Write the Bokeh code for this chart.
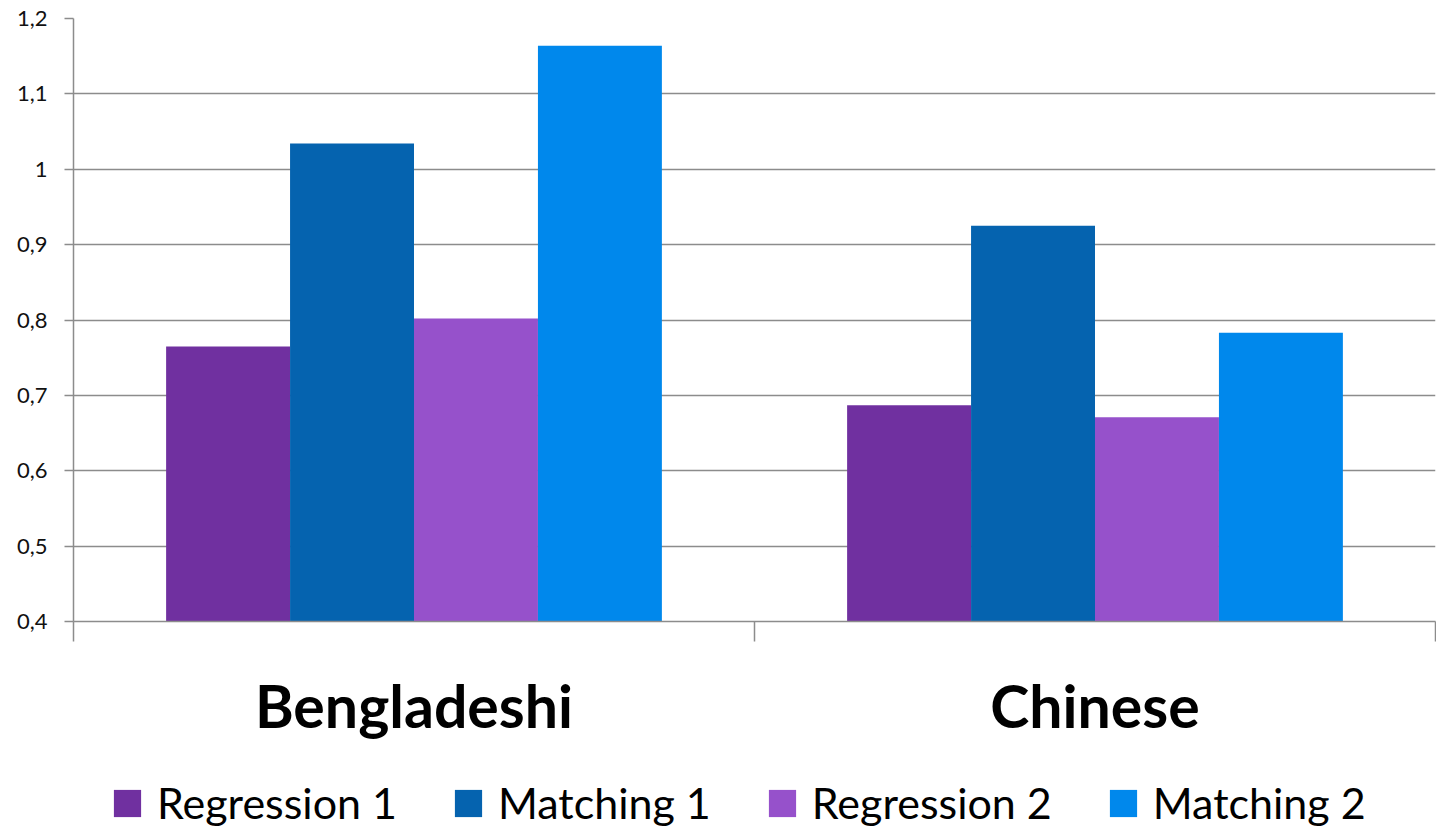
from bokeh.plotting import figure
from bokeh.layouts import column
from bokeh.models import (Range1d, LinearAxis, FixedTicker, CustomJSTickFormatter,
                          Legend, LegendItem, ColumnDataSource)
from bokeh.transform import dodge
from bokeh.embed import file_html
from bokeh.resources import INLINE

categories = ["Bengladeshi", "Chinese"]
series = ["Regression 1", "Matching 1", "Regression 2", "Matching 2"]
regression_1 = [0.765, 0.687]
matching_1 = [1.034, 0.925]
regression_2 = [0.802, 0.671]
matching_2 = [1.164, 0.783]
y_ticks = [0.4, 0.5, 0.6, 0.7, 0.8, 0.9, 1.0, 1.1, 1.2]
colors = ["#7030A0", "#0563AF", "#9651CB", "#0088EC"]

n = len(categories)
centers = [i + 0.5 for i in range(n)]
src = ColumnDataSource(dict(pos=centers, cat=categories, r1=regression_1, m1=matching_1,
                            r2=regression_2, m2=matching_2))

p = figure(width=1436, height=756, x_range=Range1d(0, n),
           y_range=Range1d(0.4, 1.2), output_backend="svg", toolbar_location=None,
           x_axis_location=None, min_border_left=73, min_border_right=1, min_border_top=18,
           min_border_bottom=135)
p.outline_line_color = None
p.xgrid.grid_line_color = None
p.ygrid.ticker = FixedTicker(ticks=y_ticks)
p.ygrid.grid_line_color = "#8c8c8c"
p.ygrid.grid_line_width = 1.5

GRAY = "#8c8c8c"
ya = p.yaxis[0]
ya.ticker = FixedTicker(ticks=y_ticks)
ya.formatter = CustomJSTickFormatter(code="return (Math.round(tick*10)/10).toString().replace('.', ',');")
ya.axis_line_color = GRAY
ya.axis_line_width = 1.5
ya.major_tick_line_color = GRAY
ya.major_tick_line_width = 1.5
ya.major_tick_out = 9
ya.major_tick_in = 0
ya.minor_tick_line_color = None
ya.major_label_text_font = "Lato"
ya.major_label_text_font_size = "22px"
ya.major_label_text_color = "#111111"
ya.major_label_standoff = 17

# boundary ticks axis
ba = LinearAxis(ticker=FixedTicker(ticks=list(range(n + 1))))
ba.axis_line_color = GRAY
ba.axis_line_width = 1.5
ba.major_tick_line_color = GRAY
ba.major_tick_line_width = 1.5
ba.major_tick_out = 20
ba.major_tick_in = 0
ba.minor_tick_line_color = None
ba.major_label_text_font_size = "0px"
ba.major_label_standoff = 0
p.add_layout(ba, "below")

# category label axis
ca = LinearAxis(ticker=FixedTicker(ticks=centers))
ca.major_label_overrides = {c: name for c, name in zip(centers, categories)}
ca.axis_line_color = None
ca.major_tick_line_color = None
ca.minor_tick_line_color = None
ca.major_label_text_font = "Lato"
ca.major_label_text_font_style = "bold"
ca.major_label_text_font_size = "59px"
ca.major_label_text_color = "#000000"
ca.major_label_standoff = 22
p.add_layout(ca, "below")

w = 0.182
offsets = [-0.273, -0.091, 0.091, 0.273]
fields = ["r1", "m1", "r2", "m2"]
for f, off, c in zip(fields, offsets, colors):
    p.vbar(x=dodge("pos", off), top=f, bottom=0.4, width=w, source=src,
           fill_color=c, line_color=None)

# legend strip: same series, plotted out of view so that only the legend shows
pl = figure(width=1436, height=72, x_range=Range1d(0, n), y_range=Range1d(2, 3),
            output_backend="svg", toolbar_location=None, x_axis_location=None,
            y_axis_location=None, min_border_left=0, min_border_right=0, min_border_top=0,
            min_border_bottom=0)
pl.outline_line_color = None
pl.grid.visible = False
items = []
for f, off, c, name in zip(fields, offsets, colors, series):
    r = pl.vbar(x=dodge("pos", off), top=f, bottom=0.4, width=w, source=src,
                fill_color=c, line_color=None)
    items.append(LegendItem(label=name, renderers=[r]))

leg = Legend(items=items, orientation="horizontal", location=(37, 0))
leg.border_line_color = None
leg.background_fill_alpha = 0
leg.label_text_font = "Lato"
leg.label_text_font_size = "43px"
leg.label_text_color = "#000000"
leg.glyph_width = 34
leg.glyph_height = 34
leg.label_standoff = 13
leg.spacing = 54
leg.padding = 0
leg.margin = 0
pl.add_layout(leg, "center")

layout = column(p, pl, spacing=0)
open("out.html", "w").write(file_html(layout, INLINE))
